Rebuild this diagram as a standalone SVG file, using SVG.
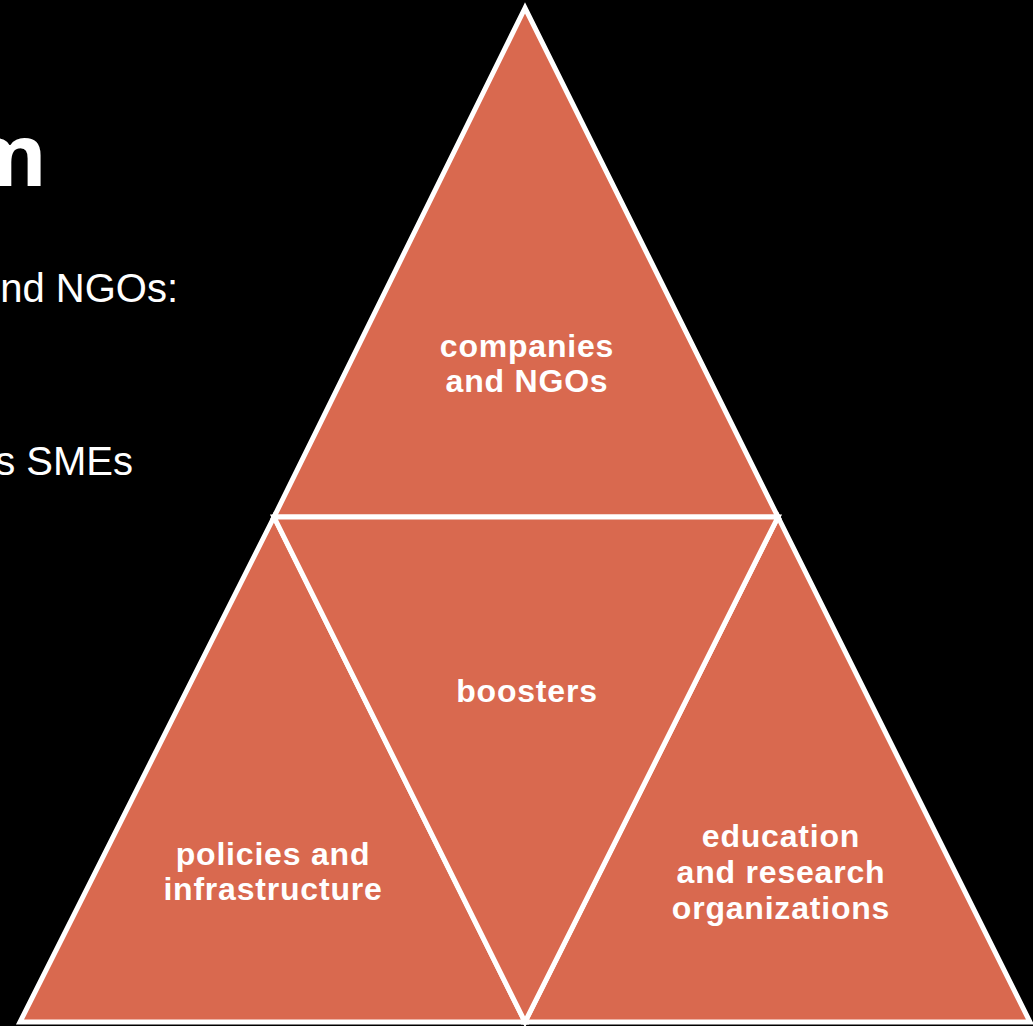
<svg xmlns="http://www.w3.org/2000/svg" width="1033" height="1026" viewBox="0 0 1033 1026">
<style>
.tri{fill:#D9694F;stroke:#FFFFFF;stroke-width:5;stroke-linejoin:miter}
.lbl{font-family:"Liberation Sans",Arial,sans-serif;font-weight:bold;font-size:32px;fill:#FFFFFF;text-anchor:middle;letter-spacing:0.8px}
.body{font-family:"Liberation Sans",Arial,sans-serif;font-size:40px;fill:#FFFFFF;text-anchor:end}
</style>
<rect x="0" y="0" width="1033" height="1026" fill="#000000"/>
<text x="47" y="186" style="font-family:'Open Sans','Liberation Sans',sans-serif;font-weight:bold;font-size:86px;fill:#FFFFFF;text-anchor:end">m</text>
<text class="body" x="178" y="302">nd NGOs:</text>
<text class="body" x="133" y="475">s SMEs</text>
<g id="top">
<polygon class="tri" points="525,8 274,517 778,517"/>
<text class="lbl" x="527" y="357">companies</text>
<text class="lbl" x="527" y="392">and NGOs</text>
</g>
<g id="left">
<polygon class="tri" points="274,517 20,1022 525,1022"/>
<text class="lbl" x="273" y="865">policies and</text>
<text class="lbl" x="273" y="900">infrastructure</text>
</g>
<g id="right">
<polygon class="tri" points="778,517 525,1022 1030,1022"/>
<text class="lbl" x="781" y="847">education</text>
<text class="lbl" x="781" y="883">and research</text>
<text class="lbl" x="781" y="919">organizations</text>
</g>
<g id="middle">
<polygon class="tri" points="274,517 778,517 525,1022"/>
<text class="lbl" x="527" y="702">boosters</text>
</g>
<g id="connectors"></g>
</svg>
